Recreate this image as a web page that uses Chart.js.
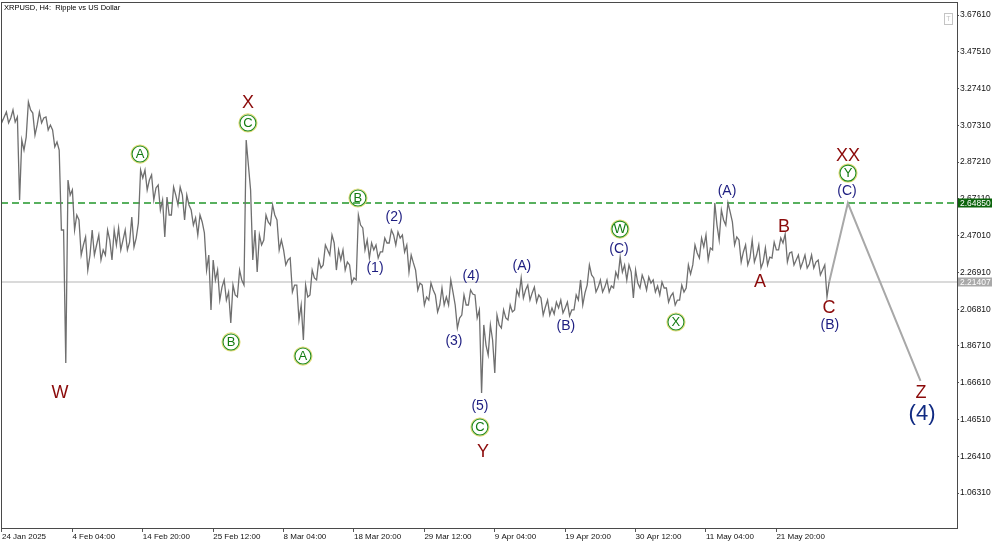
<!DOCTYPE html>
<html>
<head>
<meta charset="utf-8">
<script src="https://cdn.jsdelivr.net/npm/chart.js@4.4.1/dist/chart.umd.min.js"></script>
<style>
  html, body { margin: 0; padding: 0; background: #fff; }
  #wrap { width: 1000px; height: 545px; position: relative; }
</style>
</head>
<body>
<div id="wrap"><canvas id="chart"></canvas></div>
<script>
// XRPUSD H4, read one day (6 bars) at a time: high, low, close
const dayHigh = [
  3.157, 3.146, 3.157, 2.993, 3.201, 3.140, 3.146, 3.119, 3.048, 2.938,
  2.774, 2.720, 2.556, 2.463, 2.501, 2.474, 2.501, 2.501, 2.512, 2.501,
  2.572, 2.829, 2.829, 2.802, 2.747, 2.681, 2.736, 2.736, 2.692, 2.610,
  2.583, 2.485, 2.337, 2.282, 2.228, 2.200, 2.282, 2.993, 2.720, 2.474,
  2.583, 2.638, 2.556, 2.392, 2.348, 2.200, 2.200, 2.282, 2.337, 2.419,
  2.474, 2.392, 2.392, 2.310, 2.583, 2.512, 2.430, 2.419, 2.457, 2.501,
  2.490, 2.474, 2.364, 2.282, 2.200, 2.211, 2.146, 2.184, 2.228, 2.091,
  2.146, 2.173, 2.146, 1.982, 1.982, 2.036, 2.064, 2.091, 2.173, 2.239,
  2.200, 2.189, 2.129, 2.118, 2.107, 2.118, 2.107, 2.146, 2.228, 2.310,
  2.239, 2.228, 2.228, 2.271, 2.353, 2.310, 2.282, 2.255, 2.244, 2.228,
  2.217, 2.184, 2.157, 2.200, 2.310, 2.419, 2.457, 2.474, 2.649, 2.610,
  2.649, 2.545, 2.446, 2.419, 2.446, 2.419, 2.403, 2.435, 2.457, 2.479,
  2.381, 2.364, 2.364, 2.364, 2.337, 2.310
];
const dayLow = [
  3.091, 3.086, 3.091, 2.665, 3.009, 3.020, 3.086, 3.048, 2.955, 2.501,
  1.774, 2.501, 2.364, 2.282, 2.364, 2.337, 2.364, 2.337, 2.392, 2.392,
  2.408, 2.539, 2.720, 2.665, 2.610, 2.463, 2.583, 2.638, 2.556, 2.528,
  2.474, 2.282, 2.064, 2.118, 2.118, 1.993, 2.135, 2.200, 2.337, 2.271,
  2.446, 2.528, 2.392, 2.310, 2.162, 2.009, 1.900, 2.146, 2.228, 2.310,
  2.364, 2.282, 2.282, 2.211, 2.228, 2.392, 2.348, 2.348, 2.381, 2.430,
  2.419, 2.381, 2.271, 2.173, 2.091, 2.118, 2.053, 2.091, 2.091, 1.965,
  2.036, 2.091, 2.020, 1.610, 1.818, 1.719, 1.965, 2.009, 2.064, 2.129,
  2.118, 2.107, 2.036, 2.036, 2.042, 2.047, 2.031, 2.064, 2.091, 2.200,
  2.162, 2.162, 2.162, 2.184, 2.271, 2.228, 2.129, 2.184, 2.173, 2.162,
  2.146, 2.107, 2.091, 2.118, 2.184, 2.310, 2.348, 2.337, 2.392, 2.446,
  2.528, 2.419, 2.326, 2.310, 2.326, 2.293, 2.310, 2.348, 2.392, 2.326,
  2.310, 2.293, 2.293, 2.293, 2.255, 2.135
];
const dayClose = [
  3.119, 3.113, 3.119, 2.938, 3.157, 3.075, 3.113, 3.075, 2.982, 2.501,
  2.692, 2.583, 2.419, 2.364, 2.419, 2.392, 2.446, 2.419, 2.446, 2.435,
  2.457, 2.785, 2.774, 2.731, 2.665, 2.583, 2.692, 2.692, 2.638, 2.567,
  2.545, 2.364, 2.228, 2.189, 2.162, 2.146, 2.228, 2.856, 2.501, 2.419,
  2.545, 2.583, 2.446, 2.337, 2.200, 2.091, 2.135, 2.239, 2.293, 2.392,
  2.430, 2.337, 2.326, 2.239, 2.528, 2.446, 2.392, 2.381, 2.430, 2.474,
  2.457, 2.419, 2.321, 2.211, 2.135, 2.173, 2.091, 2.135, 2.162, 2.020,
  2.091, 2.151, 2.064, 1.872, 1.900, 1.982, 2.020, 2.053, 2.140, 2.173,
  2.157, 2.146, 2.080, 2.075, 2.075, 2.075, 2.064, 2.118, 2.157, 2.255,
  2.189, 2.189, 2.195, 2.239, 2.310, 2.271, 2.211, 2.222, 2.211, 2.195,
  2.184, 2.140, 2.118, 2.162, 2.260, 2.375, 2.408, 2.403, 2.528, 2.556,
  2.599, 2.463, 2.381, 2.348, 2.364, 2.326, 2.353, 2.392, 2.430, 2.375,
  2.337, 2.326, 2.315, 2.326, 2.282, 2.217
];

// time axis (bar numbers of the H4 chart) and its labels
const timeBars = [0, 64, 128, 192, 256, 320, 384, 448, 512, 576, 640, 704];
const timeLabels = ['24 Jan 2025', '4 Feb 04:00', '14 Feb 20:00', '25 Feb 12:00', '8 Mar 04:00',
  '18 Mar 20:00', '29 Mar 12:00', '9 Apr 04:00', '19 Apr 20:00', '30 Apr 12:00', '11 May 04:00', '21 May 20:00'];
const priceTicks = [3.67610, 3.47510, 3.27410, 3.07310, 2.87210, 2.67110, 2.47010,
  2.26910, 2.06810, 1.86710, 1.66610, 1.46510, 1.26410, 1.06310];

const resistLevel = 2.64850;
const bidLevel = 2.21407;

// forecast path after the last bar
const projBars = [769, 835];
const projPrices = [2.6485, 1.676];

// wave marks: text, bar, price, kind
const waves = [
  ['X', 223.6, 3.195, 'red'], ['C', 223.6, 3.086, 'circle'],
  ['A', 125.5, 2.916, 'circle'], ['B', 208.2, 1.889, 'circle'],
  ['A', 273.6, 1.812, 'circle'], ['B', 323.6, 2.676, 'circle'],
  ['(2)', 356.4, 2.572, 'navy'], ['(1)', 339.1, 2.293, 'navy'],
  ['(4)', 426.4, 2.249, 'navy'], ['(3)', 410.9, 1.894, 'navy'],
  ['(A)', 472.7, 2.304, 'navy'], ['(5)', 434.5, 1.539, 'navy'],
  ['C', 434.5, 1.424, 'circle'], ['Y', 437.3, 1.287, 'red'],
  ['(B)', 512.7, 1.976, 'navy'], ['W', 561.8, 2.506, 'circle'],
  ['(C)', 560.9, 2.397, 'navy'], ['X', 612.7, 1.998, 'circle'],
  ['(A)', 659.1, 2.714, 'navy'], ['B', 710.9, 2.517, 'red'],
  ['A', 689.1, 2.217, 'red'], ['C', 751.8, 2.075, 'red'],
  ['(B)', 752.7, 1.982, 'navy'], ['XX', 769.1, 2.905, 'red'],
  ['Y', 769.1, 2.812, 'circle'], ['(C)', 768.2, 2.714, 'navy'],
  ['W', 52.7, 1.610, 'red'], ['Z', 835.5, 1.610, 'red'],
  ['(4)', 836.4, 1.495, 'big']
];

const fam = '"Liberation Sans", Arial, sans-serif';

// each day drawn as low/high swing then the close
let pricePts = [];
for (let i = 0; i < dayClose.length; i++) {
  let b = i * 6;
  let upDay = dayClose[i] >= (dayHigh[i] + dayLow[i]) / 2;
  pricePts.push({ x: b - 2, y: upDay ? dayLow[i] : dayHigh[i] });
  pricePts.push({ x: b, y: upDay ? dayHigh[i] : dayLow[i] });
  pricePts.push({ x: b + 2, y: dayClose[i] });
}
let last = pricePts[pricePts.length - 1];
let projPts = [{ x: last.x, y: last.y }];
for (let i = 0; i < projBars.length; i++) {
  projPts.push({ x: projBars[i], y: projPrices[i] });
}

const overlay = {
  id: 'overlay',
  beforeDatasetsDraw(chart) {
    const c = chart.ctx, a = chart.chartArea, ys = chart.scales.y;
    c.save();
    let yb = Math.round(ys.getPixelForValue(bidLevel));
    c.strokeStyle = '#dadada';
    c.lineWidth = 2;
    c.beginPath(); c.moveTo(a.left, yb); c.lineTo(a.right, yb); c.stroke();
    let yr = Math.round(ys.getPixelForValue(resistLevel));
    c.strokeStyle = '#22962a';
    c.lineWidth = 1.4;
    c.setLineDash([7, 4]);
    c.beginPath(); c.moveTo(a.left, yr); c.lineTo(a.right, yr); c.stroke();
    c.restore();
  },
  afterDatasetsDraw(chart) {
    const c = chart.ctx, a = chart.chartArea, xs = chart.scales.x, ys = chart.scales.y;
    c.save();
    // frame
    c.strokeStyle = '#4a4a4a';
    c.lineWidth = 1;
    c.strokeRect(a.left + 0.5, a.top + 0.5, a.right - a.left, a.bottom - a.top);

    // wave labels
    c.textAlign = 'center';
    c.textBaseline = 'middle';
    waves.forEach(([t, b, p, kind]) => {
      let x = xs.getPixelForValue(b), y = ys.getPixelForValue(p);
      if (kind === 'circle') {
        c.beginPath(); c.arc(x, y, 9, 0, Math.PI * 2);
        c.strokeStyle = '#e3dc7a'; c.lineWidth = 1.2; c.stroke();
        c.beginPath(); c.arc(x, y, 8, 0, Math.PI * 2);
        c.strokeStyle = '#1f8a1f'; c.lineWidth = 1.1; c.stroke();
        c.fillStyle = '#127a12';
        c.font = '13px ' + fam;
        c.fillText(t, x, y + 0.5);
      } else if (kind === 'red') {
        c.fillStyle = '#8b0a0a';
        c.font = '18px ' + fam;
        c.fillText(t, x, y);
      } else if (kind === 'navy') {
        c.fillStyle = '#1d1d80';
        c.font = '14px ' + fam;
        c.fillText(t, x, y);
      } else {
        c.fillStyle = '#102a82';
        c.font = '22px ' + fam;
        c.fillText(t, x, y);
      }
    });

    // price tags on the axis
    c.font = '8.5px ' + fam;
    c.textAlign = 'left';
    [[resistLevel, '#0b640b'], [bidLevel, '#a9a9a9']].forEach(([lv, col]) => {
      let y = Math.round(ys.getPixelForValue(lv));
      c.fillStyle = col;
      c.fillRect(a.right + 1, y - 4.5, 34, 9);
      c.fillStyle = '#ffffff';
      c.fillText(lv.toFixed(5), a.right + 3, y + 0.5);
    });

    // title
    c.fillStyle = '#000';
    c.font = '7.5px ' + fam;
    c.textBaseline = 'middle';
    c.fillText('XRPUSD, H4:  Ripple vs US Dollar', 4, 7.5);

    // small trade-level button
    c.strokeStyle = '#c4c4c4';
    c.lineWidth = 1;
    c.strokeRect(944.5, 13.5, 8, 11);
    c.fillStyle = '#c4c4c4';
    c.font = '7px ' + fam;
    c.textAlign = 'center';
    c.fillText('T', 948.5, 19.5);
    c.restore();
  }
};

new Chart(document.getElementById('chart'), {
  type: 'line',
  data: {
    datasets: [
      { data: pricePts, borderColor: '#6f6f6f', borderWidth: 1.3, pointRadius: 0, tension: 0 },
      { data: projPts, borderColor: '#a8a8a8', borderWidth: 2, pointRadius: 0, tension: 0 }
    ]
  },
  options: {
    responsive: true,
    maintainAspectRatio: false,
    animation: false,
    layout: { padding: { left: 1, top: 2, right: 0, bottom: 0 } },
    plugins: { legend: { display: false }, tooltip: { enabled: false } },
    scales: {
      x: {
        type: 'linear',
        min: -0.9,
        max: 868.2,
        offset: false,
        border: { display: false },
        grid: { display: true, drawOnChartArea: false, drawTicks: true, tickLength: 4, color: '#555' },
        ticks: {
          align: 'start', maxRotation: 0, autoSkip: false, padding: 0, color: '#111',
          font: { family: fam, size: 8 },
          callback: (v, i) => timeLabels[i]
        },
        afterBuildTicks: s => { s.ticks = timeBars.map(v => ({ value: v })); },
        afterFit: s => { s.height = 17; s.paddingLeft = 0; s.paddingRight = 0; }
      },
      y: {
        position: 'right',
        min: 0.8721,
        max: 3.7472,
        border: { display: false },
        grid: { display: true, drawOnChartArea: false, drawTicks: true, tickLength: 2, color: '#555' },
        ticks: {
          padding: 1, color: '#111',
          font: { family: fam, size: 8.5 },
          callback: v => v.toFixed(5)
        },
        afterBuildTicks: s => { s.ticks = priceTicks.map(v => ({ value: v })); },
        afterFit: s => { s.width = 43; s.paddingTop = 0; s.paddingBottom = 0; }
      }
    }
  },
  plugins: [overlay]
});
</script>
</body>
</html>
